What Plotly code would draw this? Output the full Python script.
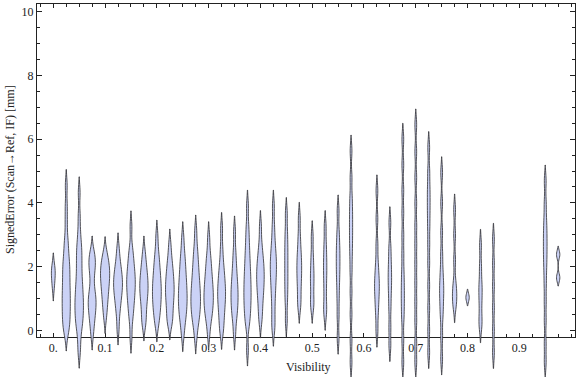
import numpy as np
import plotly.graph_objects as go

# ---------------- data ----------------
visibility = [0.0, 0.025, 0.05, 0.075, 0.1, 0.125, 0.15, 0.175, 0.2, 0.225,
              0.25, 0.275, 0.3, 0.325, 0.35, 0.375, 0.4, 0.425, 0.45, 0.475,
              0.5, 0.525, 0.55, 0.575, 0.625, 0.65, 0.675, 0.7, 0.725, 0.75,
              0.775, 0.8, 0.825, 0.85, 0.95, 0.975]

signed_error = [
    [1.42, 1.8, 1.93],
    [4.55, 3.9, 3.4, 2.9, 2.65, 2.4, 2.2, 2.05, 1.9, 1.75, 1.6, 1.45, 1.3, 1.17, 1.03, 0.9, 0.77, 0.63, 0.5, 0.35, 0.2, 0.08, -0.15],
    [4.32, 3.6, 3.1, 2.75, 2.55, 2.35, 2.15, 1.95, 1.75, 1.55, 1.4, 1.25, 1.1, 0.97, 0.85, 0.72, 0.6, 0.47, 0.33, 0.18, 0.03, -0.3, -0.69],
    [2.46, 2.3, 2.15, 2.0, 1.85, 1.55, 1.25, 1.1, 0.97, 0.85, 0.72, 0.58, 0.4, 0.2, -0.12],
    [2.44, 2.25, 2.1, 1.98, 1.87, 1.76, 1.65, 1.53, 1.4, 1.25, 1.1, 0.9, 0.7, 0.4],
    [2.56, 2.2, 2.0, 1.83, 1.7, 1.58, 1.47, 1.36, 1.24, 1.1, 0.95, 0.75, 0.5, 0.04],
    [3.25, 2.6, 2.35, 2.15, 1.98, 1.83, 1.7, 1.58, 1.46, 1.34, 1.21, 1.07, 0.92, 0.75, 0.55, 0.3, -0.22],
    [2.46, 2.15, 1.95, 1.78, 1.63, 1.5, 1.38, 1.26, 1.13, 0.98, 0.82, 0.6, 0.35, 0.17],
    [2.96, 2.5, 2.25, 2.05, 1.88, 1.72, 1.58, 1.45, 1.33, 1.21, 1.09, 0.97, 0.84, 0.7, 0.55, 0.38, 0.14],
    [2.68, 2.3, 2.08, 1.9, 1.74, 1.6, 1.47, 1.35, 1.23, 1.11, 0.98, 0.84, 0.68, 0.5, 0.3, 0.2],
    [2.91, 2.5, 2.25, 2.05, 1.87, 1.7, 1.55, 1.41, 1.28, 1.15, 1.03, 0.91, 0.79, 0.66, 0.52, 0.36, 0.17, -0.17],
    [3.12, 2.65, 2.38, 2.16, 1.97, 1.8, 1.64, 1.5, 1.37, 1.25, 1.13, 1.02, 0.91, 0.8, 0.69, 0.57, 0.44, 0.29, 0.12, -0.24],
    [2.91, 2.45, 2.2, 2.0, 1.82, 1.66, 1.52, 1.39, 1.27, 1.15, 1.04, 0.93, 0.82, 0.7, 0.57, 0.42, 0.25, -0.12],
    [3.2, 2.6, 2.2, 1.95, 1.75, 1.58, 1.43, 1.29, 1.16, 1.03, 0.89, 0.74, 0.57, 0.37, 0.15, -0.1],
    [3.09, 2.5, 2.15, 1.88, 1.66, 1.47, 1.31, 1.16, 1.01, 0.86, 0.7, 0.52, 0.3, -0.12],
    [3.9, 3.3, 2.95, 2.65, 2.4, 2.18, 1.98, 1.8, 1.63, 1.47, 1.32, 1.17, 1.02, 0.87, 0.71, 0.54, 0.35, 0.12, -0.62],
    [3.26, 2.75, 2.45, 2.25, 2.08, 1.93, 1.79, 1.65, 1.51, 1.36, 1.2, 1.02, 0.8, 0.55, 0.26],
    [3.9, 3.3, 2.9, 2.6, 2.38, 2.2, 2.03, 1.86, 1.68, 1.48, 1.25, 0.98, 0.65, 0.3, 0.0],
    [3.67, 3.1, 2.7, 2.35, 2.0, 1.65, 1.3, 0.9, 0.3],
    [3.52, 2.95, 2.55, 2.28, 2.05, 1.83, 1.6, 1.33, 1.0, 0.72],
    [2.94, 2.35, 1.95, 1.65, 1.35, 0.95, 0.72],
    [3.26, 2.7, 2.3, 1.98, 1.65, 1.25, 0.8, 0.5],
    [3.75, 3.1, 2.7, 2.4, 2.1, 1.8, 1.45, 1.0, 0.45, -0.25],
    [5.63, 4.8, 4.2, 3.8, 3.45, 3.1, 2.75, 2.35, 1.85, 1.2, 0.5, -0.3, -1.0],
    [4.38, 3.5, 2.7, 2.15, 1.8, 1.55, 1.35, 1.12, 0.85, 0.5, -0.03],
    [3.38, 2.6, 2.15, 1.8, 1.5, 1.15, 0.7, 0.1, -0.48],
    [6.0, 5.2, 4.4, 3.7, 3.0, 2.4, 1.85, 1.45, 1.1, 0.75, 0.35, -0.3, -1.0],
    [6.45, 5.6, 4.8, 4.0, 3.3, 2.7, 2.1, 1.5, 0.9, 0.3, -0.4, -1.0],
    [5.74, 5.0, 4.5, 4.1, 3.7, 3.25, 2.7, 2.1, 1.4, 0.7, 0.0, -0.7],
    [4.95, 4.0, 3.1, 2.4, 1.9, 1.55, 1.3, 1.05, 0.75, 0.4, -0.2, -0.9],
    [3.78, 3.0, 2.2, 1.5, 1.2, 1.0, 0.74],
    [1.03],
    [2.67, 2.0, 1.5, 1.2, 0.85, 0.4, 0.11],
    [2.86, 2.1, 1.4, 0.7, 0.0, -0.7],
    [4.69, 4.0, 3.5, 3.15, 2.85, 2.55, 2.25, 1.9, 1.45, 0.9, 0.3, -0.4, -1.0],
    [1.65, 2.38],
]

x_tick_values = [0.0, 0.1, 0.2, 0.3, 0.4, 0.5, 0.6, 0.7, 0.8, 0.9]
x_tick_labels = ["0.", "0.1", "0.2", "0.3", "0.4", "0.5", "0.6", "0.7", "0.8", "0.9"]
y_tick_values = [0, 2, 4, 6, 8, 10]

# ---------------- style ----------------
BANDWIDTH = 0.25
BANDWIDTH_OVERRIDES = {0.8: 0.13, 0.975: 0.13}
WIDTH_PER_DENSITY = 0.00212      # violin width (x units) per sample/unit of density
FILL = "rgb(203,210,246)"
LINE = "rgba(55,55,60,0.85)"
AXIS = "#222222"
FONT = "Liberation Serif"

W, H = 576, 377
ML, MR, MT, MB = 37, 1, 4, 0
FRAME_BOTTOM_PX = 337
Y_RANGE = [-0.21, 10.245]
X_RANGE = [-0.0315, 1.0075]

plot_h = H - MT - MB
d0 = (H - FRAME_BOTTOM_PX - MB) / plot_h
px_per_unit = (FRAME_BOTTOM_PX - MT) / (Y_RANGE[1] - Y_RANGE[0])
y2_low = Y_RANGE[1] - plot_h / px_per_unit


def peak_density(vals, h):
    v = np.asarray(vals, dtype=float)
    grid = np.linspace(v.min() - 2 * h, v.max() + 2 * h, 600)
    dens = np.exp(-0.5 * ((grid[:, None] - v[None, :]) / h) ** 2).sum(axis=1) / (h * np.sqrt(2 * np.pi))
    return dens.max()


fig = go.Figure()
# invisible helper so that the framed x/y subplot exists
fig.add_trace(go.Scatter(x=[visibility[0]], y=[y_tick_values[0]], mode="markers",
                         marker=dict(size=1, opacity=0), xaxis="x", yaxis="y",
                         showlegend=False, hoverinfo="skip"))
for pos, vals in zip(visibility, signed_error):
    h = BANDWIDTH_OVERRIDES.get(pos, BANDWIDTH)
    fig.add_trace(go.Violin(
        y=vals, x0=pos, name=str(pos), width=WIDTH_PER_DENSITY * peak_density(vals, h),
        bandwidth=h, spanmode="soft", points=False,
        box=dict(visible=False), meanline=dict(visible=False),
        line=dict(color=LINE, width=1), fillcolor=FILL,
        xaxis="x", yaxis="y2", showlegend=False, hoverinfo="skip",
    ))

fig.update_layout(
    width=W, height=H, margin=dict(l=ML, r=MR, t=MT, b=MB, autoexpand=False),
    paper_bgcolor="white", plot_bgcolor="rgba(0,0,0,0)",
    violinmode="overlay", showlegend=False,
    font=dict(family=FONT, size=12, color=AXIS),
    xaxis=dict(
        range=X_RANGE, anchor="y", tickmode="array", tickvals=x_tick_values, ticktext=x_tick_labels,
        ticks="inside", ticklen=4, tickwidth=1, tickcolor=AXIS,
        showline=True, linecolor=AXIS, linewidth=1, mirror="ticks",
        showgrid=False, zeroline=False,
        minor=dict(ticks="inside", tickmode="linear", tick0=0, dtick=0.025, ticklen=3, tickcolor=AXIS, showgrid=False),
        tickfont=dict(family=FONT, size=12, color=AXIS),
    ),
    yaxis=dict(
        domain=[d0, 1], range=Y_RANGE, anchor="x", tickmode="array", tickvals=y_tick_values,
        ticks="inside", ticklen=5, tickwidth=1, tickcolor=AXIS,
        showline=True, linecolor=AXIS, linewidth=1, mirror="ticks",
        showgrid=False, zeroline=False,
        minor=dict(ticks="inside", tickmode="linear", tick0=0, dtick=0.5, ticklen=3, tickcolor=AXIS, showgrid=False),
        tickfont=dict(family=FONT, size=12, color=AXIS),
    ),
    yaxis2=dict(domain=[0, 1], range=[y2_low, Y_RANGE[1]], anchor="x", visible=False),
    annotations=[
        dict(text="Visibility", xref="paper", yref="paper", x=(308 - ML) / (W - ML - MR),
             y=(H - 367 - MB) / plot_h, xanchor="center", yanchor="middle", showarrow=False,
             font=dict(family=FONT, size=12, color=AXIS)),
        dict(text="SignedError (Scan→Ref, IF) [mm]", xref="paper", yref="paper",
             x=(10 - ML) / (W - ML - MR), y=(H - 170 - MB) / plot_h, textangle=-90,
             xanchor="center", yanchor="middle", showarrow=False,
             font=dict(family=FONT, size=12, color=AXIS)),
    ],
)

fig.write_html("out.html", config={"displayModeBar": False},
               post_script="document.body.style.margin='0';document.body.style.overflow='hidden';")
